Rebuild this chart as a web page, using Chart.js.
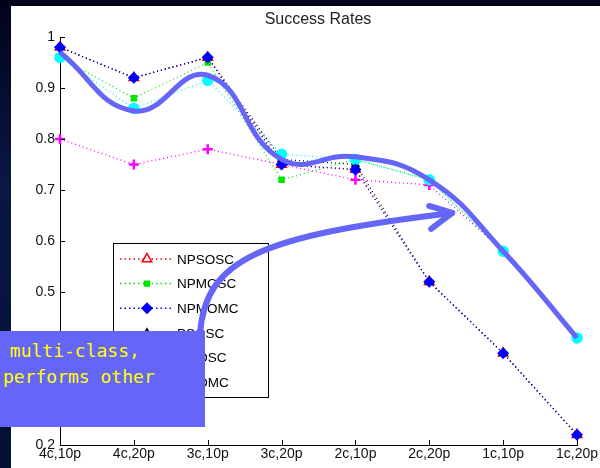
<!DOCTYPE html>
<html>
<head>
<title>Success Rates</title>
<script src="https://cdn.jsdelivr.net/npm/chart.js@4.4.1/dist/chart.umd.min.js"></script>
<style>
body { margin:0; width:600px; height:468px; overflow:hidden; background:linear-gradient(to bottom, #02031a 0%, #0a1746 40%, #021035 100%); }
#panel { position:absolute; left:11px; top:6px; width:589px; height:462px; background:#fff; }
#wrap { position:absolute; left:0; top:0; width:600px; height:468px; }
#note { position:absolute; left:0; top:331px; width:205px; height:96px; background:#6565f7; color:#ffff00;
        font-family:"DejaVu Sans Mono", monospace; font-size:18px; line-height:26px; white-space:pre; overflow:hidden; }
</style>
</head>
<body>
<div id="panel"></div>
<div id="wrap"><canvas id="myChart" width="600" height="468"></canvas></div>
<div id="note"><div style="position:absolute;left:-1px;top:7px;"> multi-class,</div><div style="position:absolute;left:3px;top:33px;">performs other</div></div>

<script>
// categories (x axis)
var categories = ['4c,10p', '4c,20p', '3c,10p', '3c,20p', '2c,10p', '2c,20p', '1c,10p', '1c,20p'];
var yTickLabels = ['0.2', '0.3', '0.4', '0.5', '0.6', '0.7', '0.8', '0.9', '1'];

// series
var seriesNames = ['NPSOSC', 'NPMOSC', 'NPMOMC', 'PSOSC', 'PMOSC', 'PMOMC'];
var npsosc = [0.98, 0.92, 0.96, 0.75, 0.74, 0.52, 0.38, 0.22];
var npmosc = [0.96, 0.88, 0.95, 0.72, 0.76, 0.72, 0.58, 0.41];
var npmomc = [0.98, 0.92, 0.96, 0.75, 0.74, 0.52, 0.38, 0.22];
var psosc  = [0.98, 0.92, 0.96, 0.76, 0.75, 0.52, 0.38, 0.22];
var pmosc  = [0.80, 0.75, 0.78, 0.75, 0.72, 0.71, 0.58, 0.41];
var pmomc  = [0.96, 0.86, 0.915, 0.77, 0.76, 0.72, 0.58, 0.41];
// hand-drawn highlight curve on the slide
var highlight = [0.97, 0.855, 0.925, 0.76, 0.765, 0.72, 0.58, 0.41];

var BLUE = '#6565f7';
var FONT = '"Liberation Sans", Arial, sans-serif';

function dotted(label, data, color, style, radius, fill, order, bw) {
    return {
        label: label, data: data, order: order,
        borderColor: color, borderWidth: 1.3, borderDash: [1, 3],
        pointStyle: style, pointRadius: radius,
        pointBackgroundColor: fill, pointBorderColor: color, pointBorderWidth: bw || 1.5,
        fill: false, tension: 0
    };
}

var datasets = [
    dotted(seriesNames[0], npsosc, '#ff0000', 'triangle', 5.5, '#ff0000', 6),
    dotted(seriesNames[1], npmosc, '#00e600', 'rect', 3.5, '#00e600', 4),
    dotted(seriesNames[2], npmomc, '#0000ff', 'rectRot', 5, '#0000ff', 1),
    dotted(seriesNames[3], psosc, '#000000', 'triangle', 4, '#000000', 5),
    dotted(seriesNames[4], pmosc, '#ff00ff', 'cross', 5, '#ff00ff', 3, 2.5),
    dotted(seriesNames[5], pmomc, '#00ffff', 'circle', 5, '#00ffff', 2),
    { label: 'highlight', data: highlight, order: 0, borderColor: BLUE, borderWidth: 5,
      pointRadius: 0, tension: 0.45, fill: false }
];

// legend: open marker for the first entry as in the figure
var legendFill = ['#ffffff', '#00e600', '#0000ff', '#000000', '#ff00ff', '#00ffff'];

var slidePlugin = {
    id: 'slide',
    afterDatasetsDraw: function(chart) {
        var ctx = chart.ctx, xs = chart.scales.x, ys = chart.scales.y;
        ctx.save();
        // inward tick marks
        ctx.strokeStyle = '#000'; ctx.lineWidth = 1;
        ys.ticks.forEach(function(t) {
            var py = Math.round(ys.getPixelForValue(t.value)) + 0.5;
            ctx.beginPath(); ctx.moveTo(xs.left, py); ctx.lineTo(xs.left + 5, py); ctx.stroke();
        });
        xs.ticks.forEach(function(t, i) {
            var px = Math.round(xs.getPixelForValue(i)) + 0.5;
            ctx.beginPath(); ctx.moveTo(px, ys.bottom); ctx.lineTo(px, ys.bottom - 5); ctx.stroke();
        });
        // title
        ctx.fillStyle = '#222'; ctx.font = '16px ' + FONT;
        ctx.textAlign = 'center'; ctx.textBaseline = 'middle';
        ctx.fillText('Success Rates', 318, 20);
        // legend box
        ctx.fillStyle = '#fff'; ctx.fillRect(113, 243, 155, 154);
        ctx.strokeStyle = '#000'; ctx.strokeRect(113.5, 243.5, 155, 154);
        ctx.font = '13.5px ' + FONT;
        ctx.textAlign = 'left';
        for (var i = 0; i < seriesNames.length; i++) {
            var ds = chart.data.datasets[i];
            var y = 259 + i * 24.6;
            ctx.strokeStyle = ds.borderColor; ctx.lineWidth = 1.5; ctx.setLineDash([1.5, 3]);
            ctx.beginPath(); ctx.moveTo(120, y); ctx.lineTo(172, y); ctx.stroke();
            ctx.setLineDash([]);
            ctx.fillStyle = legendFill[i]; ctx.strokeStyle = ds.borderColor;
            ctx.lineWidth = ds.pointBorderWidth;
            Chart.helpers.drawPoint(ctx, { pointStyle: ds.pointStyle, radius: ds.pointRadius, rotation: 0, borderWidth: ds.pointBorderWidth }, 147, y);
            ctx.fillStyle = '#000';
            ctx.fillText(seriesNames[i], 177, y + 1);
        }
        // the slide's arrow, placed in data units
        var p = [[1.895, 0.416], [1.96, 0.565], [2.71, 0.61], [5.31, 0.655]].map(function(q) {
            return [xs.getPixelForValue(q[0]), ys.getPixelForValue(q[1])];
        });
        ctx.strokeStyle = BLUE; ctx.lineWidth = 6; ctx.lineCap = 'round'; ctx.lineJoin = 'round';
        ctx.beginPath(); ctx.moveTo(p[0][0], p[0][1]);
        ctx.bezierCurveTo(p[1][0], p[1][1], p[2][0], p[2][1], p[3][0], p[3][1]);
        ctx.stroke();
        var tip = p[3];
        ctx.beginPath();
        ctx.moveTo(tip[0] - 23, tip[1] - 7); ctx.lineTo(tip[0], tip[1]); ctx.lineTo(tip[0] - 21, tip[1] + 16);
        ctx.stroke();
        ctx.restore();
    }
};

var ctx = document.getElementById('myChart').getContext('2d');
var chart = new Chart(ctx, {
    type: 'line',
    data: { labels: categories, datasets: datasets },
    plugins: [slidePlugin],
    options: {
        responsive: false,
        animation: false,
        layout: { padding: { top: 37, right: 23, left: 0, bottom: 0 } },
        plugins: { legend: { display: false }, tooltip: { enabled: false } },
        scales: {
            x: {
                offset: false,
                grid: { display: false, drawTicks: false },
                border: { display: true, color: '#000', width: 1 },
                ticks: { color: '#111', padding: 1, maxRotation: 0, autoSkip: false,
                         font: { family: FONT, size: 14 } },
                afterFit: function(s) { s.height = 23; }
            },
            y: {
                min: 0.2, max: 1,
                grid: { display: false, drawTicks: false },
                border: { display: true, color: '#000', width: 1 },
                ticks: { stepSize: 0.1, color: '#111', padding: 5,
                         font: { family: FONT, size: 14 },
                         callback: function(v, i) { return yTickLabels[i]; } },
                afterFit: function(s) { s.width = 60; }
            }
        }
    }
});
</script>
</body>
</html>
